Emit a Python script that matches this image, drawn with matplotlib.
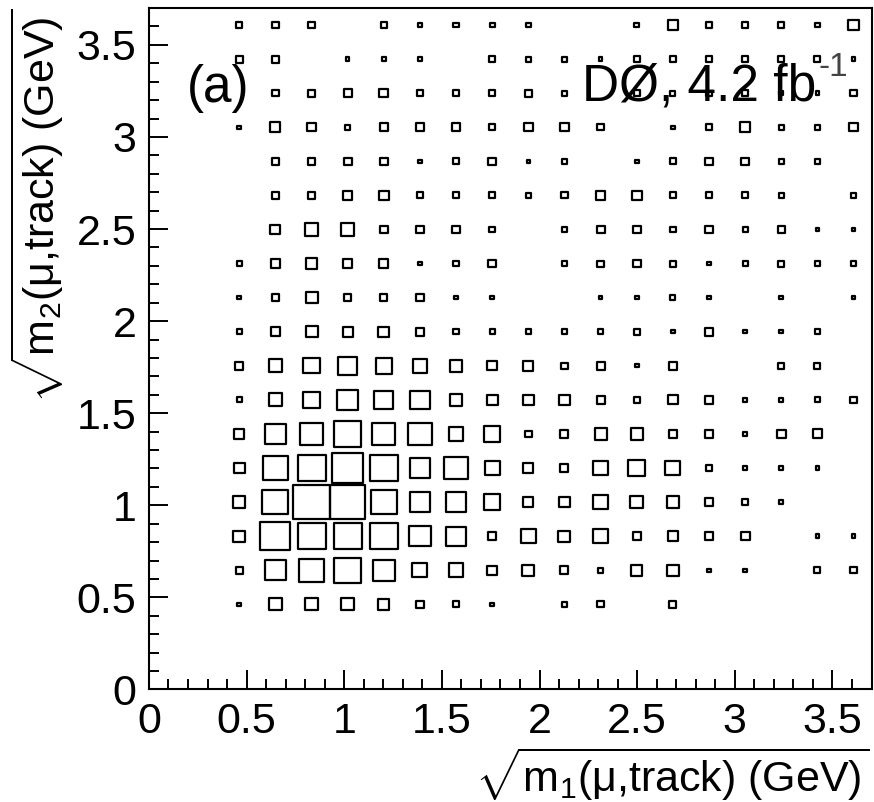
import numpy as np
import matplotlib
matplotlib.use("Agg")
import matplotlib.pyplot as plt
from matplotlib.patches import Rectangle
from matplotlib.collections import PatchCollection
from matplotlib.ticker import MultipleLocator

plt.rcParams['font.family'] = ['Liberation Sans', 'DejaVu Sans']
plt.rcParams['mathtext.fontset'] = 'custom'
plt.rcParams['mathtext.rm'] = 'Liberation Sans'
plt.rcParams['mathtext.it'] = 'Liberation Sans'
plt.rcParams['mathtext.bf'] = 'Liberation Sans:bold'

# histogram binning: 20 bins from 0 to 3.7 GeV on each axis
x_edges = np.linspace(0, 3.7, 21)
y_edges = np.linspace(0, 3.7, 21)
first_bin = 2  # bins below 0.37 are empty

# bin contents, one row per y bin (top row first), columns from x bin 2 up
counts_rows = [
    [3, 3, 3, 0, 3, 1, 2, 2, 2, 0, 0, 2, 8, 3, 3, 3, 2, 8],
    [4, 4, 0, 1, 1, 1, 0, 3, 2, 2, 1, 3, 3, 3, 3, 3, 3, 1],
    [0, 3, 4, 5, 6, 3, 3, 3, 4, 2, 0, 3, 2, 2, 3, 1, 1, 3],
    [1, 8, 5, 2, 5, 5, 5, 3, 6, 6, 3, 0, 1, 3, 8, 2, 2, 5],
    [0, 4, 4, 5, 5, 1, 3, 5, 1, 2, 0, 1, 3, 4, 4, 2, 2, 0],
    [0, 4, 4, 6, 7, 3, 3, 3, 2, 3, 7, 8, 3, 3, 3, 2, 0, 2],
    [0, 8, 14, 14, 5, 5, 5, 3, 0, 2, 5, 5, 3, 4, 2, 4, 1, 1],
    [2, 6, 9, 6, 6, 1, 2, 5, 0, 2, 3, 5, 3, 1, 2, 3, 2, 2],
    [1, 4, 11, 4, 4, 5, 1, 1, 0, 0, 1, 1, 2, 1, 0, 1, 0, 1],
    [2, 7, 11, 8, 9, 5, 2, 2, 2, 2, 2, 3, 1, 5, 1, 1, 2, 0],
    [5, 14, 20, 27, 21, 16, 12, 7, 8, 3, 5, 1, 5, 0, 0, 3, 3, 0],
    [2, 14, 23, 36, 27, 29, 12, 9, 9, 9, 5, 3, 7, 5, 1, 1, 2, 3],
    [8, 36, 42, 55, 42, 43, 17, 21, 4, 5, 11, 11, 5, 5, 1, 6, 7, 0],
    [10, 50, 60, 74, 58, 32, 42, 17, 8, 5, 16, 21, 17, 3, 1, 1, 1, 0],
    [11, 51, 100, 95, 52, 32, 33, 20, 8, 9, 16, 13, 11, 5, 3, 1, 0, 0],
    [11, 69, 60, 60, 58, 35, 32, 5, 18, 11, 17, 5, 8, 6, 6, 0, 1, 1],
    [4, 33, 47, 55, 38, 17, 17, 7, 11, 5, 2, 10, 10, 1, 1, 0, 3, 3],
    [1, 12, 12, 12, 10, 4, 3, 1, 0, 2, 3, 0, 4, 0, 0, 0, 0, 0],
]
counts = np.array(counts_rows[::-1], dtype=float)

x_ticks = [0, 0.5, 1, 1.5, 2, 2.5, 3, 3.5]
y_ticks = [0, 0.5, 1, 1.5, 2, 2.5, 3, 3.5]
x_label = r'$\sqrt{\mathrm{m_1(\mu{,}track)\ (GeV)}}$'
y_label = r'$\sqrt{\mathrm{m_2(\mu{,}track)\ (GeV)}}$'
tag = '(a)'
lumi = 'DØ, 4.2 fb'
lumi_exp = '-1'

fig = plt.figure(figsize=(8.74, 8.02), dpi=100)
ax = fig.add_axes([0.1704, 0.1403, 0.8268, 0.8497])

# box option: box area proportional to bin content
cmax = counts.max()
boxes = []
for j in range(counts.shape[0]):
    for i in range(counts.shape[1]):
        c = counts[j, i]
        if c <= 0:
            continue
        x0, x1 = x_edges[first_bin + i], x_edges[first_bin + i + 1]
        y0, y1 = y_edges[first_bin + j], y_edges[first_bin + j + 1]
        f = np.sqrt(c / cmax)
        w = (x1 - x0) * f
        h = (y1 - y0) * f
        xc = 0.5 * (x0 + x1)
        yc = 0.5 * (y0 + y1)
        boxes.append(Rectangle((xc - w / 2, yc - h / 2), w, h))
ax.add_collection(PatchCollection(boxes, facecolor='none', edgecolor='black',
                                  linewidth=1.6))

ax.set_xlim(x_edges[0], x_edges[-1])
ax.set_ylim(y_edges[0], y_edges[-1])
ax.set_xticks(x_ticks)
ax.set_yticks(y_ticks)
ax.set_xticklabels([f'{t:g}' for t in x_ticks])
ax.set_yticklabels([f'{t:g}' for t in y_ticks])
ax.xaxis.set_minor_locator(MultipleLocator(0.1))
ax.yaxis.set_minor_locator(MultipleLocator(0.1))
ax.tick_params(which='both', direction='in', top=False, right=False,
               width=1.4, labelsize=31, pad=9)
ax.tick_params(which='major', length=14)
ax.tick_params(which='minor', length=7)
for s in ax.spines.values():
    s.set_linewidth(1.5)

fig.text(0.995, 0.071, x_label, ha='right', va='top', fontsize=31)
fig.text(0.009, 0.99, y_label, ha='left', va='top', rotation=90, fontsize=31)
fig.text(0.214, 0.873, tag, ha='left', va='baseline', fontsize=37)
fig.text(0.666, 0.875, lumi, ha='left', va='baseline', fontsize=37)
fig.text(0.937, 0.905, lumi_exp, ha='left', va='baseline', fontsize=24,
         color='#444444')

fig.savefig('out.png', dpi=100)
